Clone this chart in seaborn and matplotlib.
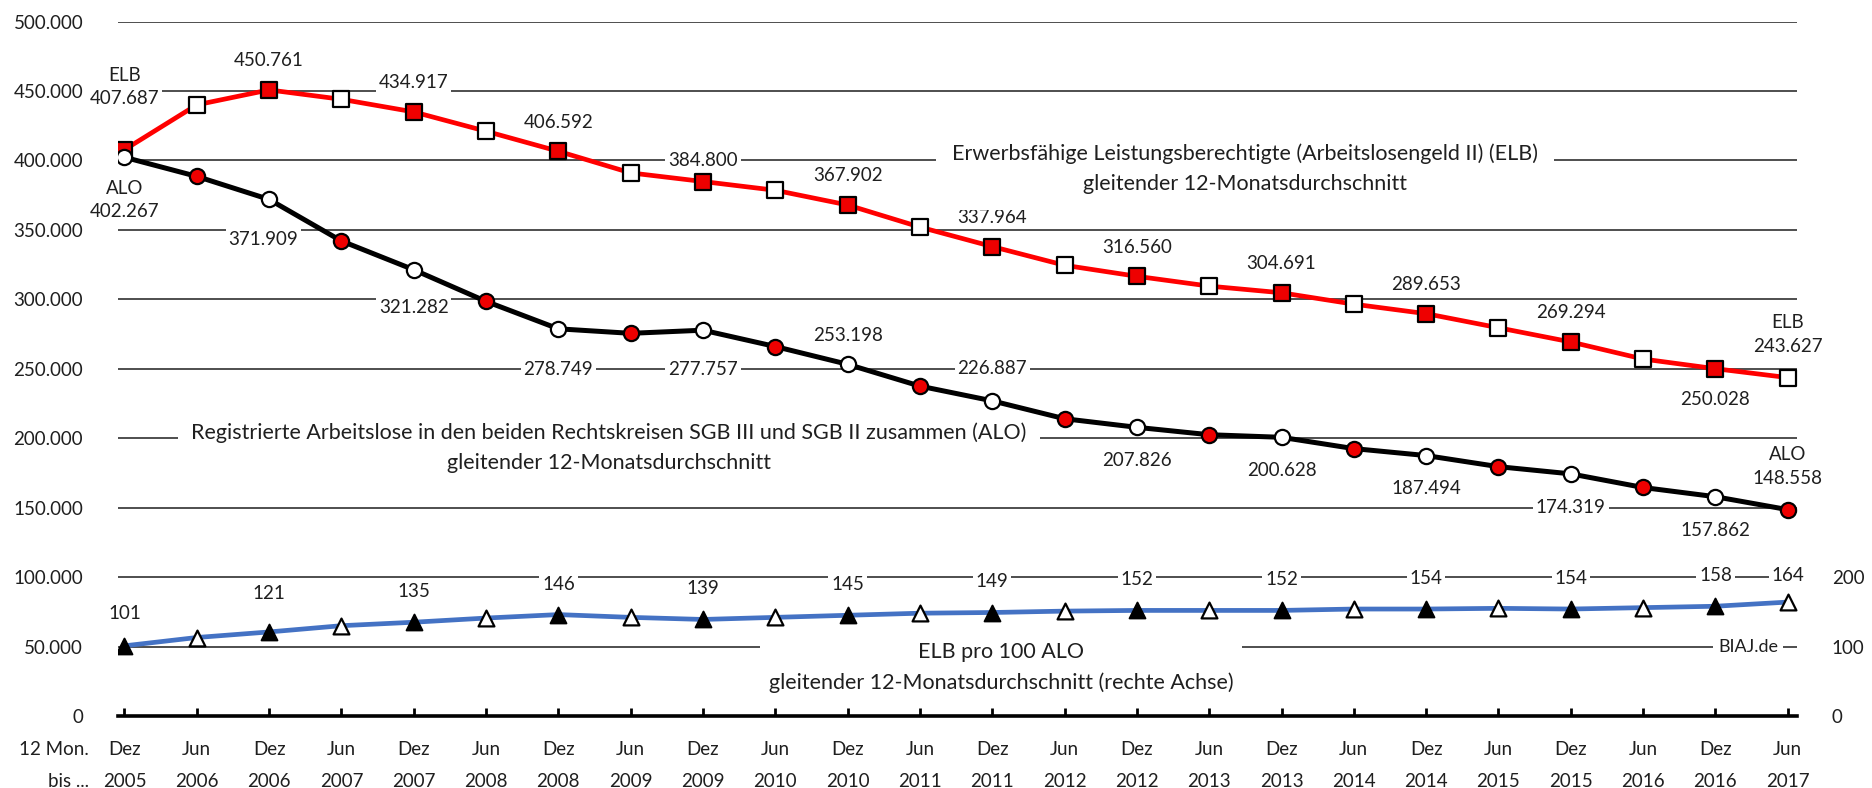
import matplotlib
matplotlib.use("Agg")
import matplotlib.pyplot as plt
import seaborn as sns
import pandas as pd
from matplotlib.ticker import FuncFormatter

# ---------------- data ----------------
periods = ["Dez\n2005", "Jun\n2006", "Dez\n2006", "Jun\n2007", "Dez\n2007", "Jun\n2008",
           "Dez\n2008", "Jun\n2009", "Dez\n2009", "Jun\n2010", "Dez\n2010", "Jun\n2011",
           "Dez\n2011", "Jun\n2012", "Dez\n2012", "Jun\n2013", "Dez\n2013", "Jun\n2014",
           "Dez\n2014", "Jun\n2015", "Dez\n2015", "Jun\n2016", "Dez\n2016", "Jun\n2017"]
elb = [407687, 440000, 450761, 444000, 434917, 421000, 406592, 391000, 384800, 378500,
       367902, 352000, 337964, 324500, 316560, 309500, 304691, 296500, 289653, 279500,
       269294, 257000, 250028, 243627]
alo = [402267, 388500, 371909, 342000, 321282, 298500, 278749, 275500, 277757, 266000,
       253198, 237500, 226887, 214000, 207826, 202500, 200628, 192500, 187494, 179500,
       174319, 164500, 157862, 148558]
ratio = [101, 113, 121, 130, 135, 141, 146, 142, 139, 142, 145, 148, 149, 151, 152, 152,
         152, 154, 154, 155, 154, 156, 158, 164]
left_ticks = list(range(0, 500001, 50000))
right_ticks = [0, 100, 200]

# ---------------- style ----------------
sns.set_style("white")
plt.rcParams["font.family"] = ["Lato", "DejaVu Sans"]
TXT = "#1f1f1f"
FS = 13.5
FSD = 15.5
RED = "#FF0000"
BLUE = "#4472C4"

df = pd.DataFrame({"pos": range(len(periods)), "elb": elb, "alo": alo, "ratio": ratio})
df["dez"] = [p.startswith("Dez") for p in periods]
dez = df[df["dez"]]
jun = df[~df["dez"]]

fig = plt.figure(figsize=(18.72, 7.88), dpi=100)
ax = fig.add_axes([0.063, 0.0914, 0.897, 0.8813])
ax.set_axisbelow(True)

# lines
sns.lineplot(data=df, x="pos", y="elb", color=RED, lw=3.4, ax=ax, zorder=4)
sns.lineplot(data=df, x="pos", y="alo", color="black", lw=3.6, ax=ax, zorder=4)
sns.scatterplot(data=dez, x="pos", y="elb", marker="s", s=120, color="#EE0000",
                edgecolor="black", linewidth=1.6, ax=ax, zorder=5)
sns.scatterplot(data=jun, x="pos", y="elb", marker="s", s=120, color="white",
                edgecolor="black", linewidth=1.6, ax=ax, zorder=5)
sns.scatterplot(data=dez, x="pos", y="alo", marker="o", s=120, color="white",
                edgecolor="black", linewidth=1.6, ax=ax, zorder=5)
sns.scatterplot(data=jun, x="pos", y="alo", marker="o", s=120, color="#EE0000",
                edgecolor="black", linewidth=1.6, ax=ax, zorder=5)

XLIM = (-0.09, 23.13)
ax.set_xlim(*XLIM)
ax.set_ylim(0, 500000)
ax.set_xlabel("")
ax.set_ylabel("")
ax.set_yticks(left_ticks)
ax.yaxis.set_major_formatter(FuncFormatter(lambda v, p: f"{int(v):,}".replace(",", ".")))
ax.yaxis.grid(True, color="#404040", lw=1.3)
ax.xaxis.grid(False)
ax.set_xticks(range(len(periods)))
ax.set_xticklabels(periods, fontsize=FS, color=TXT, linespacing=2.08)
ax.tick_params(axis="x", direction="in", length=6, width=2, pad=18, color="black", bottom=True)
ax.tick_params(axis="y", length=0, pad=25, labelsize=FS, labelcolor=TXT)
for s in ["left", "right", "top"]:
    ax.spines[s].set_visible(False)
ax.spines["bottom"].set_linewidth(2.6)
ax.spines["bottom"].set_color("black")

box = dict(boxstyle="square,pad=0.15", fc="white", ec="none")


def de(v):
    return f"{v:,}".replace(",", ".")


def lab(a, i, v, text, dy, dx=0):
    a.annotate(text, xy=(i, v), xytext=(dx, dy), textcoords="offset points",
               ha="center", va="center", fontsize=FS, color=TXT, bbox=box,
               zorder=3, linespacing=1.45)


# ELB labels
elb_dy = {0: 45, 8: 15, 22: -22, 23: 31}
for i in list(range(0, 24, 2)) + [23]:
    t = de(elb[i])
    if i in (0, 23):
        t = "ELB\n" + t
    lab(ax, i, elb[i], t, elb_dy.get(i, 21))

# ALO labels
alo_dy = {0: -31, 2: -29, 4: -27, 6: -29, 8: -28, 10: 21, 12: 23, 23: 31}
alo_dx = {2: -4}
for i in list(range(0, 24, 2)) + [23]:
    t = de(alo[i])
    if i in (0, 23):
        t = "ALO\n" + t
    lab(ax, i, alo[i], t, alo_dy.get(i, -24), alo_dx.get(i, 0))

# descriptions
ax.text(15.5, 394000, "Erwerbsfähige Leistungsberechtigte (Arbeitslosengeld II) (ELB)\n"
        "gleitender 12-Monatsdurchschnitt", ha="center", va="center", fontsize=FSD,
        color=TXT, linespacing=1.6, multialignment="center",
        bbox=dict(boxstyle="square,pad=0.75", fc="white", ec="none"), zorder=3)
ax.text(6.7, 193000, "Registrierte Arbeitslose in den beiden Rechtskreisen SGB III und SGB II zusammen (ALO)\n"
        "gleitender 12-Monatsdurchschnitt", ha="center", va="center", fontsize=FSD,
        color=TXT, linespacing=1.6, multialignment="center",
        bbox=dict(boxstyle="square,pad=0.6", fc="white", ec="none"), zorder=3)
ax.text(12.12, 35000, "ELB pro 100 ALO\ngleitender 12-Monatsdurchschnitt (rechte Achse)",
        ha="center", va="center", fontsize=FSD, color=TXT, linespacing=1.6,
        multialignment="center",
        bbox=dict(boxstyle="square,pad=0.4", fc="white", ec="none"), zorder=3)
ax.text(22.45, 50000, "BIAJ.de", ha="center", va="center", fontsize=13, color=TXT,
        bbox=dict(boxstyle="square,pad=0.3", fc="white", ec="none"), zorder=3)
ax.annotate("12 Mon.\nbis ...", xy=(0, 0), xycoords="axes fraction", xytext=(-21, -18),
            textcoords="offset points", ha="right", va="top", fontsize=FS, color=TXT,
            linespacing=2.08, multialignment="right")

# right axis: ratio
ax2 = ax.twinx()
sns.lineplot(data=df, x="pos", y="ratio", color=BLUE, lw=3.4, ax=ax2, zorder=4)
sns.scatterplot(data=dez, x="pos", y="ratio", marker="^", s=130, color="black",
                edgecolor="black", linewidth=1.4, ax=ax2, zorder=5)
sns.scatterplot(data=jun, x="pos", y="ratio", marker="^", s=130, color="white",
                edgecolor="black", linewidth=1.6, ax=ax2, zorder=5)
ax2.set_ylim(0, 1000)
ax2.set_xlim(*XLIM)
ax2.set_yticks(right_ticks)
ax2.set_ylabel("")
ax2.set_xlabel("")
ax2.tick_params(axis="y", length=0, pad=25, labelsize=FS, labelcolor=TXT)
for s in ax2.spines.values():
    s.set_visible(False)
ratio_dy = {0: 23, 2: 28, 23: 19}
for i in list(range(0, 24, 2)) + [23]:
    lab(ax2, i, ratio[i], str(ratio[i]), ratio_dy.get(i, 22))

fig.savefig("out.png", dpi=100)
